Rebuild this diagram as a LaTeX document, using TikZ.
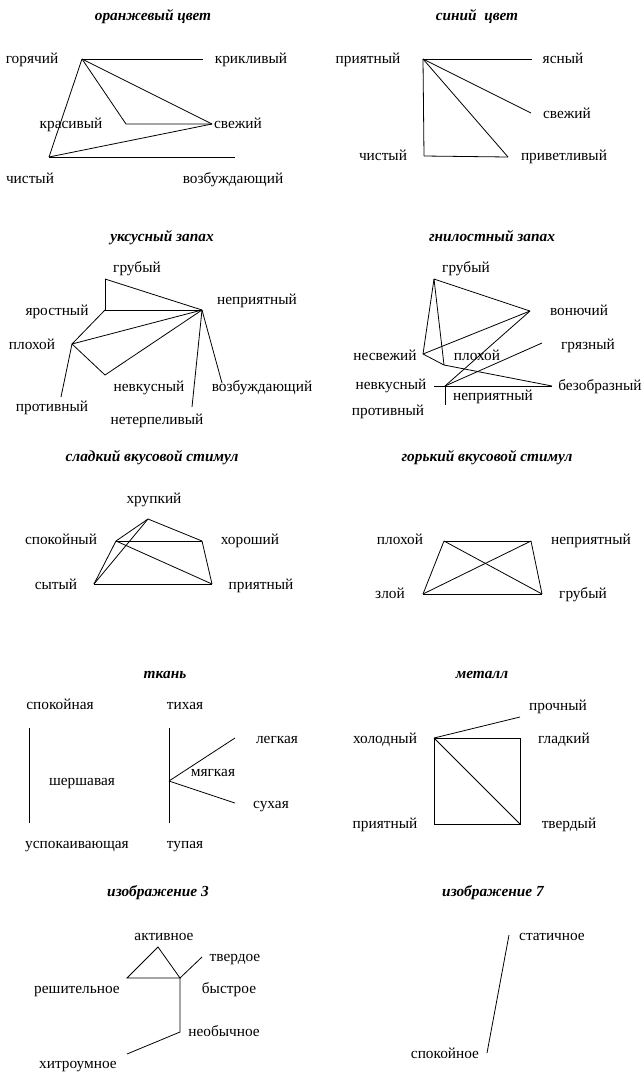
\documentclass[tikz,border=0pt]{standalone}
\usepackage{fontspec}
\setmainfont{Liberation Serif}
\begin{document}
\begin{tikzpicture}[x=0.75pt,y=-0.75pt,
  lbl/.style={font=\fontsize{11.5}{13}\selectfont, inner sep=0pt, anchor=mid},
  ttl/.style={font=\fontsize{11.5}{13}\selectfont\bfseries\itshape, inner sep=0pt, anchor=mid},
  ln/.style={line width=0.6pt, black}]
\useasboundingbox (0,0) rectangle (643,1072);

% ===== Panel 1: оранжевый цвет =====
\node[ttl] (t1) at (153,17) {оранжевый цвет};
\node[lbl] (l1a) at (32,60) {горячий};
\node[lbl] (l1b) at (251,60) {крикливый};
\node[lbl] (l1c) at (71,125) {красивый};
\node[lbl] (l1d) at (238,125) {свежий};
\node[lbl] (l1e) at (30,180) {чистый};
\node[lbl] (l1f) at (233,180) {возбуждающий};
\coordinate (p1a) at (82,59);
\coordinate (p1b) at (203,59);
\coordinate (p1c) at (126,124);
\coordinate (p1d) at (212,124);
\coordinate (p1e) at (49,157);
\coordinate (p1f) at (235,157);
\draw[ln] (p1a) -- (p1b);
\draw[ln] (p1a) -- (p1c) -- (p1d);
\draw[ln] (p1a) -- (p1d);
\draw[ln] (p1a) -- (p1e);
\draw[ln] (p1e) -- (p1d);
\draw[ln] (p1e) -- (p1f);

% ===== Panel 2: синий цвет =====
\node[ttl] (t2) at (477,17) {синий\ \ цвет};
\node[lbl] (l2a) at (368,60) {приятный};
\node[lbl] (l2b) at (563,60) {ясный};
\node[lbl] (l2c) at (567,115) {свежий};
\node[lbl] (l2d) at (383,157) {чистый};
\node[lbl] (l2e) at (564,157) {приветливый};
\coordinate (p2a) at (423,59);
\coordinate (p2b) at (532,59);
\coordinate (p2c) at (531,113);
\coordinate (p2d) at (424,156);
\coordinate (p2e) at (508,157);
\draw[ln] (p2a) -- (p2b);
\draw[ln] (p2a) -- (p2c);
\draw[ln] (p2a) -- (p2d);
\draw[ln] (p2a) -- (p2e);
\draw[ln] (p2d) -- (p2e);

% ===== Panel 3: уксусный запах =====
\node[ttl] (t3) at (162,238) {уксусный запах};
\node[lbl] (l3a) at (137,269) {грубый};
\node[lbl] (l3b) at (257,301) {неприятный};
\node[lbl] (l3c) at (57,312) {яростный};
\node[lbl] (l3d) at (32,346) {плохой};
\node[lbl] (l3e) at (149,388) {невкусный};
\node[lbl] (l3f) at (262,388) {возбуждающий};
\node[lbl] (l3g) at (52,408) {противный};
\node[lbl] (l3h) at (157,421) {нетерпеливый};
\coordinate (p3a) at (105,279);
\coordinate (p3b) at (202,310);
\coordinate (p3c) at (105,310);
\coordinate (p3d) at (72,344);
\coordinate (p3e) at (105,375);
\coordinate (p3f) at (222,383);
\coordinate (p3g) at (61,397);
\coordinate (p3h) at (192,407);
\draw[ln] (p3a) -- (p3c);
\draw[ln] (p3a) -- (p3b);
\draw[ln] (p3c) -- (p3b);
\draw[ln] (p3c) -- (p3d);
\draw[ln] (p3d) -- (p3b);
\draw[ln] (p3d) -- (p3e);
\draw[ln] (p3e) -- (p3b);
\draw[ln] (p3d) -- (p3g);
\draw[ln] (p3b) -- (p3h);
\draw[ln] (p3b) -- (p3f);

% ===== Panel 4: гнилостный запах =====
\node[ttl] (t4) at (492,238) {гнилостный запах};
\node[lbl] (l4a) at (466,269) {грубый};
\node[lbl] (l4b) at (579,312) {вонючий};
\node[lbl] (l4c) at (588,346) {грязный};
\node[lbl] (l4d) at (385,357) {несвежий};
\node[lbl] (l4e) at (477,357) {плохой};
\node[lbl] (l4f) at (391,386) {невкусный};
\node[lbl] (l4g) at (600,387) {безобразный};
\node[lbl] (l4h) at (493,397) {неприятный};
\node[lbl] (l4i) at (388,412) {противный};
\coordinate (p4a) at (434,279);
\coordinate (p4b) at (530,311);
\coordinate (p4c) at (542,343);
\coordinate (p4d) at (423,354);
\coordinate (p4e) at (444,365);
\coordinate (p4f) at (445,386);
\coordinate (p4g) at (552,386);
\coordinate (p4h) at (434,386);
\coordinate (p4i) at (445,405);
\draw[ln] (p4a) -- (p4d);
\draw[ln] (p4a) -- (p4e);
\draw[ln] (p4a) -- (p4b);
\draw[ln] (p4d) -- (p4b);
\draw[ln] (p4d) -- (p4e) -- (p4g);
\draw[ln] (p4f) -- (p4b);
\draw[ln] (p4f) -- (p4c);
\draw[ln] (p4h) -- (p4g);
\draw[ln] (p4f) -- (p4i);

% ===== Panel 5: сладкий вкусовой стимул =====
\node[ttl] (t5) at (152,458) {сладкий вкусовой стимул};
\node[lbl] (l5a) at (154,500) {хрупкий};
\node[lbl] (l5b) at (61,541) {спокойный};
\node[lbl] (l5c) at (250,541) {хороший};
\node[lbl] (l5d) at (56,586) {сытый};
\node[lbl] (l5e) at (261,586) {приятный};
\coordinate (p5a) at (148,519);
\coordinate (p5b) at (116,541);
\coordinate (p5c) at (202,541);
\coordinate (p5d) at (94,584);
\coordinate (p5e) at (212,584);
\draw[ln] (p5a) -- (p5b);
\draw[ln] (p5a) -- (p5c);
\draw[ln] (p5a) -- (p5d);
\draw[ln] (p5b) -- (p5c);
\draw[ln] (p5b) -- (p5d);
\draw[ln] (p5b) -- (p5e);
\draw[ln] (p5c) -- (p5e);
\draw[ln] (p5d) -- (p5e);

% ===== Panel 6: горький вкусовой стимул =====
\node[ttl] (t6) at (487,458) {горький вкусовой стимул};
\node[lbl] (l6a) at (400,541) {плохой};
\node[lbl] (l6b) at (591,541) {неприятный};
\node[lbl] (l6c) at (390,595) {злой};
\node[lbl] (l6d) at (583,595) {грубый};
\coordinate (p6a) at (444,541);
\coordinate (p6b) at (531,541);
\coordinate (p6c) at (423,594);
\coordinate (p6d) at (542,594);
\draw[ln] (p6a) -- (p6b);
\draw[ln] (p6a) -- (p6c);
\draw[ln] (p6a) -- (p6d);
\draw[ln] (p6b) -- (p6c);
\draw[ln] (p6b) -- (p6d);
\draw[ln] (p6c) -- (p6d);

% ===== Panel 7: ткань =====
\node[ttl] (t7) at (165,675) {ткань};
\node[lbl] (l7a) at (60,706) {спокойная};
\node[lbl] (l7b) at (185,706) {тихая};
\node[lbl] (l7c) at (277,740) {легкая};
\node[lbl] (l7d) at (213,773) {мягкая};
\node[lbl] (l7e) at (82,782) {шершавая};
\node[lbl] (l7f) at (271,805) {сухая};
\node[lbl] (l7g) at (77,845) {успокаивающая};
\node[lbl] (l7h) at (185,845) {тупая};
\coordinate (p7a) at (29,728);
\coordinate (p7b) at (29,823);
\coordinate (p7c) at (169,728);
\coordinate (p7d) at (169,823);
\coordinate (p7e) at (169,781);
\coordinate (p7f) at (235,738);
\coordinate (p7g) at (235,803);
\draw[ln] (p7a) -- (p7b);
\draw[ln] (p7c) -- (p7d);
\draw[ln] (p7e) -- (p7f);
\draw[ln] (p7e) -- (p7g);

% ===== Panel 8: металл =====
\node[ttl] (t8) at (482,675) {металл};
\node[lbl] (l8a) at (558,707) {прочный};
\node[lbl] (l8b) at (385,740) {холодный};
\node[lbl] (l8c) at (564,740) {гладкий};
\node[lbl] (l8d) at (385,825) {приятный};
\node[lbl] (l8e) at (569,825) {твердый};
\coordinate (p8a) at (520,717);
\coordinate (p8b) at (434,738);
\coordinate (p8c) at (520,738);
\coordinate (p8d) at (434,824);
\coordinate (p8e) at (520,824);
\draw[ln] (p8b) -- (p8c) -- (p8e) -- (p8d) -- cycle;
\draw[ln] (p8b) -- (p8e);
\draw[ln] (p8b) -- (p8a);

% ===== Panel 9: изображение 3 =====
\node[ttl] (t9) at (158,893) {изображение 3};
\node[lbl] (l9a) at (164,937) {активное};
\node[lbl] (l9b) at (235,958) {твердое};
\node[lbl] (l9c) at (77,990) {решительное};
\node[lbl] (l9d) at (229,990) {быстрое};
\node[lbl] (l9e) at (224,1033) {необычное};
\node[lbl] (l9f) at (78,1065) {хитроумное};
\coordinate (p9a) at (158,947);
\coordinate (p9b) at (202,957);
\coordinate (p9c) at (127,978);
\coordinate (p9d) at (180,978);
\coordinate (p9e) at (180,1032);
\coordinate (p9f) at (127,1054);
\draw[ln] (p9a) -- (p9c) -- (p9d) -- cycle;
\draw[ln] (p9d) -- (p9b);
\draw[ln] (p9d) -- (p9e) -- (p9f);

% ===== Panel 10: изображение 7 =====
\node[ttl] (t10) at (493,893) {изображение 7};
\node[lbl] (l10a) at (552,937) {статичное};
\node[lbl] (l10b) at (445,1055) {спокойное};
\coordinate (p10a) at (509,935);
\coordinate (p10b) at (487,1053);
\draw[ln] (p10a) -- (p10b);
\end{tikzpicture}
\end{document}
